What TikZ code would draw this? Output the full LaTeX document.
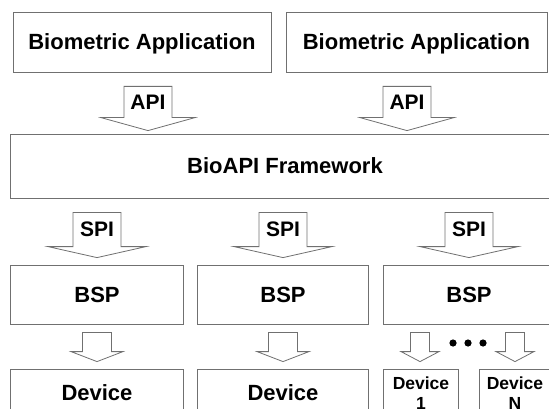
\documentclass[tikz,border=0pt]{standalone}
\usepackage{fontspec}
\setmainfont{Liberation Sans}
\usepackage{xcolor}
\usepackage{tikz}
\usetikzlibrary{calc}

\definecolor{linegray}{HTML}{707070}

% block arrow between two boxes: from, to, x, top gap, tip gap, shaft half, head half, head height, label
\newcommand{\fatarrow}[9]{%
  \draw[fatarr] let \p1=(#1.south), \p2=(#2.north) in
    ({#3pt-#6pt},{\y1-#4pt}) -- ({#3pt+#6pt},{\y1-#4pt})
    -- ({#3pt+#6pt},{\y2+#5pt+#8pt}) -- ({#3pt+#7pt},{\y2+#5pt+#8pt})
    -- ({#3pt},{\y2+#5pt}) -- ({#3pt-#7pt},{\y2+#5pt+#8pt})
    -- ({#3pt-#6pt},{\y2+#5pt+#8pt}) -- cycle;
  \ifx\relax#9\relax\else
  \path let \p1=(#1.south), \p2=(#2.north) in
    node[lbl] (#1-#2-lbl) at ({#3pt},{0.5*(\y1-#4pt)+0.5*(\y2+#5pt+#8pt)}) {#9};
  \fi
}

\begin{document}
\begin{tikzpicture}[
    x=1pt, y=-1pt,
    box/.style={rectangle, draw=linegray, line width=0.8pt, fill=white,
                align=center, inner sep=2pt, text depth=0pt,
                font=\fontsize{22}{26}\selectfont\bfseries},
    small/.style={box, font=\fontsize{17.5}{20}\selectfont\bfseries},
    fatarr/.style={draw=linegray, line width=0.8pt, fill=white, line join=miter},
    lbl/.style={inner sep=0pt, text depth=0pt, font=\fontsize{21}{24}\selectfont\bfseries}
]
\useasboundingbox (0,0) rectangle (549,409);
\clip (0,0) rectangle (549,409);

% ---- Applications ----
\node[box, minimum width=258, minimum height=60] (app1) at (142,42)   {Biometric Application};
\node[box, minimum width=261, minimum height=60] (app2) at (416.5,42) {Biometric Application};

% ---- Framework ----
\node[box, minimum width=550, minimum height=64] (fw) at (285,166) {BioAPI Framework};

% ---- Service providers ----
\node[box, minimum width=173, minimum height=59] (bsp1) at (97,294.5)  {BSP};
\node[box, minimum width=171, minimum height=59] (bsp2) at (283,294.5) {BSP};
\node[box, minimum width=172, minimum height=59] (bsp3) at (469,294.5) {BSP};

% ---- Devices ----
\node[box, minimum width=173, minimum height=48] (dev1) at (97,393)  {Device};
\node[box, minimum width=171, minimum height=48] (dev2) at (283,393) {Device};
\node[small, minimum width=75, minimum height=48] (devA) at (421,393) {Device\\1};
\node[small, minimum width=72, minimum height=48] (devN) at (515,393) {Device\\N};

% ---- API ----
\fatarrow{app1}{fw}{148}{14}{3}{24}{47}{13}{API}
\fatarrow{app2}{fw}{407}{14}{3}{24}{47}{13}{API}

% ---- SPI ----
\fatarrow{fw}{bsp1}{97}{14}{7}{24}{49}{11}{SPI}
\fatarrow{fw}{bsp2}{283}{14}{7}{24}{49}{11}{SPI}
\fatarrow{fw}{bsp3}{469}{14}{7}{24}{49}{11}{SPI}

% ---- BSP to devices ----
\fatarrow{bsp1}{dev1}{97}{8}{7}{14.5}{26}{10}{}
\fatarrow{bsp2}{dev2}{283}{8}{7}{14.5}{26}{10}{}
\fatarrow{bsp3}{devA}{420}{8}{7}{9.5}{19}{10}{}
\fatarrow{bsp3}{devN}{515}{8}{7}{9.5}{19}{10}{}

\foreach \dx in {453,468,483}
  \fill (\dx,343) circle (3.6pt);

\end{tikzpicture}
\end{document}
